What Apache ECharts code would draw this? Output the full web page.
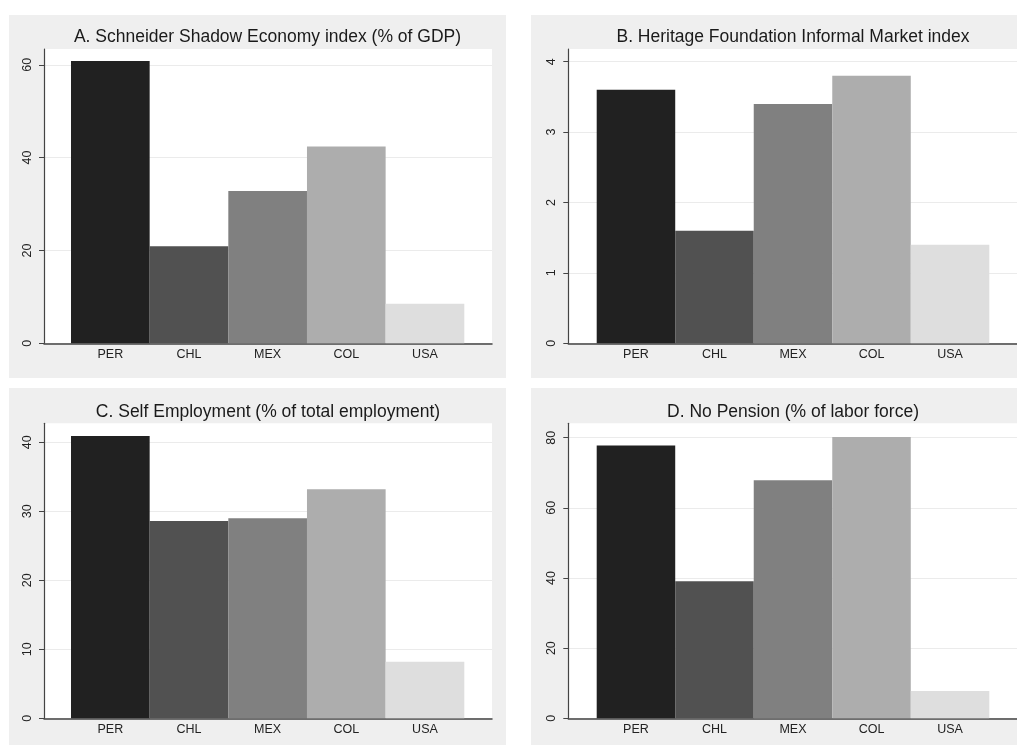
<!DOCTYPE html>
<html>
<head>
<meta charset="utf-8">
<title>Informality indicators: PER, CHL, MEX, COL, USA</title>
<script src="https://cdn.jsdelivr.net/npm/echarts@6/dist/echarts.min.js"></script>
<style>
  html, body { margin: 0; padding: 0; background: #ffffff; }
  #chart { width: 1017px; height: 745px; }
</style>
</head>
<body>
<div id="chart"></div>
<script>
// Countries shown on every panel, left to right
const countries = ['PER', 'CHL', 'MEX', 'COL', 'USA'];

// Panel values, one array per indicator
const shadowEconomy = [60.8, 20.9, 32.8, 42.4, 8.5];      // % of GDP
const informalMarket = [3.6, 1.6, 3.4, 3.8, 1.4];         // index
const selfEmployment = [40.9, 28.6, 29.0, 33.2, 8.2];     // % of total employment
const noPension = [77.8, 39.1, 67.9, 80.2, 7.8];          // % of labor force

// Panel titles
const panelTitles = [
  'A. Schneider Shadow Economy index (% of GDP)',
  'B. Heritage Foundation Informal Market index',
  'C. Self Employment (% of total employment)',
  'D. No Pension (% of labor force)'
];

// Y-axis tick labels per panel
const ticksA = [0, 20, 40, 60];
const ticksB = [0, 1, 2, 3, 4];
const ticksC = [0, 10, 20, 30, 40];
const ticksD = [0, 20, 40, 60, 80];

// One grey shade per country
const barShades = ['#212121', '#515151', '#808080', '#adadad', '#dedede'];

const FONT = '"Liberation Sans", Arial, Helvetica, sans-serif';

// Layout of the four panels: outer box, plot box, bar span, axis top
const panels = [
  { values: shadowEconomy, ticks: ticksA, max: 63.4,
    box: [9, 15, 497, 363], plot: [44, 49, 448, 294.3], bars: [71, 393.3], titleX: 267.5, titleY: 28 },
  { values: informalMarket, ticks: ticksB, max: 4.18,
    box: [531, 15, 486, 363], plot: [568.3, 49, 448.7, 294.3], bars: [596.7, 392.6], titleX: 793, titleY: 28 },
  { values: selfEmployment, ticks: ticksC, max: 42.75,
    box: [9, 388, 497, 357], plot: [44, 423.3, 448, 295], bars: [71, 393.3], titleX: 268, titleY: 403 },
  { values: noPension, ticks: ticksD, max: 84.1,
    box: [531, 388, 486, 357], plot: [568.3, 423.3, 448.7, 295], bars: [596.7, 392.6], titleX: 793, titleY: 403 }
];

const grid = [];
const xAxis = [];
const yAxis = [];
const series = [];
const title = [];
const graphic = [];

panels.forEach((p, i) => {
  // grey panel background
  graphic.push({
    type: 'rect', z: -10, silent: true,
    shape: { x: p.box[0], y: p.box[1], width: p.box[2], height: p.box[3] },
    style: { fill: '#efefef' }
  });

  title.push({
    text: panelTitles[i],
    left: p.titleX, top: p.titleY, textAlign: 'center', padding: 0,
    textStyle: { fontFamily: FONT, fontSize: 17.5, fontWeight: 'normal', color: '#1a1a1a' }
  });

  // plot area: white field, y axis, gridlines and baseline
  const bgIdx = grid.length;
  grid.push({
    left: p.plot[0], top: p.plot[1], width: p.plot[2], height: p.plot[3],
    show: true, backgroundColor: '#ffffff', borderWidth: 0, containLabel: false
  });
  xAxis.push({
    gridIndex: bgIdx, type: 'value', min: 0, max: 1,
    axisLine: { show: true, onZero: false, lineStyle: { color: '#444444', width: 1.5 } },
    axisTick: { show: false }, axisLabel: { show: false }, splitLine: { show: false }
  });
  yAxis.push({
    gridIndex: bgIdx, type: 'value', min: 0, max: p.max,
    axisLine: { show: true, lineStyle: { color: '#444444', width: 1.2 } },
    axisTick: { show: true, length: 5, customValues: p.ticks, lineStyle: { color: '#444444', width: 1 } },
    axisLabel: {
      customValues: p.ticks, rotate: 90, margin: 10,
      fontFamily: FONT, fontSize: 12.5, color: '#222222'
    },
    splitLine: { show: true, lineStyle: { color: '#ebebeb', width: 1 } }
  });

  // bar span: five contiguous bars with country labels
  const barIdx = grid.length;
  grid.push({
    left: p.bars[0], top: p.plot[1], width: p.bars[1], height: p.plot[3],
    show: false, containLabel: false
  });
  xAxis.push({
    gridIndex: barIdx, type: 'category', data: countries,
    axisLine: { show: false }, axisTick: { show: false },
    axisLabel: { margin: 5, fontFamily: FONT, fontSize: 12.5, color: '#222222' }
  });
  yAxis.push({
    gridIndex: barIdx, type: 'value', min: 0, max: p.max,
    axisLine: { show: false }, axisTick: { show: false },
    axisLabel: { show: false }, splitLine: { show: false }
  });
  series.push({
    type: 'bar', xAxisIndex: barIdx, yAxisIndex: barIdx,
    barCategoryGap: '0%', barWidth: '100%', z: 3,
    data: p.values.map((v, k) => ({ value: v, itemStyle: { color: barShades[k] } })),
    itemStyle: { borderWidth: 0 },
    silent: true, animation: false
  });
});

const chart = echarts.init(document.getElementById('chart'), null, { renderer: 'canvas' });
chart.setOption({
  backgroundColor: '#ffffff',
  animation: false,
  title, grid, xAxis, yAxis, series, graphic
});
</script>
</body>
</html>
